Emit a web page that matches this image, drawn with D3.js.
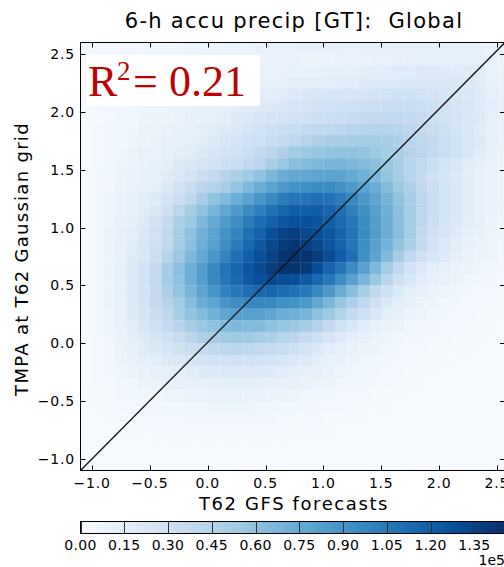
<!DOCTYPE html>
<html>
<head>
<meta charset="utf-8">
<script src="https://cdn.jsdelivr.net/npm/d3@7/dist/d3.min.js"></script>
<style>
  html, body { margin: 0; padding: 0; background: #fff; }
  text { font-family: "DejaVu Sans", sans-serif; fill: #000; }
</style>
</head>
<body>
<script>
// bin lower edges (0.1 wide), x left->right, y top->bottom
var xBinLo = [-1.1,-1.0,-0.9,-0.8,-0.7,-0.6,-0.5,-0.4,-0.3,-0.2,-0.1,0.0,0.1,0.2,0.3,0.4,0.5,0.6,0.7,0.8,0.9,1.0,1.1,1.2,1.3,1.4,1.5,1.6,1.7,1.8,1.9,2.0,2.1,2.2,2.3,2.4,2.5];
var yBinLo = [2.5,2.4,2.3,2.2,2.1,2.0,1.9,1.8,1.7,1.6,1.5,1.4,1.3,1.2,1.1,1.0,0.9,0.8,0.7,0.6,0.5,0.4,0.3,0.2,0.1,0.0,-0.1,-0.2,-0.3,-0.4,-0.5,-0.6,-0.7,-0.8,-0.9,-1.0,-1.1];
var binW = 0.1;
var xLim = [-1.1, 2.57], yLim = [-1.1, 2.6];

// counts per bin, in units of 1e4, one row per yBinLo
var counts = [
  [0.2,0.3,0.3,0.4,0.4,0.5,0.5,0.6,0.6,0.7,0.7,0.8,0.8,0.9,0.9,1.0,1.0,1.1,1.1,1.2,1.2,1.2,1.3,1.3,1.3,1.3,1.3,1.4,1.4,1.4,1.4,1.4,1.3,1.3,1.2,1.0,0.8],
  [0.2,0.3,0.3,0.4,0.5,0.5,0.6,0.6,0.7,0.7,0.8,0.8,0.9,0.9,0.9,1.0,1.0,1.0,1.0,0.9,0.9,0.9,1.0,1.0,1.0,1.1,1.1,1.2,1.2,1.3,1.3,1.4,1.4,1.4,1.4,1.1,0.8],
  [0.2,0.3,0.4,0.4,0.5,0.6,0.6,0.7,0.7,0.8,0.8,0.9,0.9,1.0,1.0,1.1,1.1,1.1,1.2,1.3,1.3,1.4,1.4,1.5,1.5,1.6,1.6,1.7,1.7,1.8,1.8,1.8,1.7,1.7,1.6,1.1,0.8],
  [0.2,0.3,0.4,0.5,0.5,0.6,0.7,0.7,0.8,0.9,0.9,1.0,1.1,1.1,1.2,1.3,1.3,1.4,1.5,1.5,1.6,1.6,1.7,1.7,1.8,1.9,1.9,2.0,2.1,2.1,2.1,2.1,2.1,2.0,1.7,1.3,1.0],
  [0.2,0.3,0.4,0.5,0.6,0.7,0.7,0.8,0.9,1.0,1.1,1.1,1.2,1.3,1.4,1.5,1.6,1.7,1.9,2.1,2.2,2.3,2.3,2.4,2.5,2.6,2.7,2.8,2.8,2.7,2.6,2.4,2.3,2.1,1.8,1.5,1.1],
  [0.2,0.3,0.4,0.5,0.6,0.7,0.8,0.9,1.0,1.1,1.2,1.3,1.4,1.5,1.7,1.9,2.0,2.2,2.4,2.5,2.7,2.8,2.9,3.0,3.1,3.2,3.3,3.3,3.3,3.2,3.0,2.8,2.5,2.2,1.9,1.6,1.2],
  [0.2,0.2,0.3,0.5,0.6,0.7,0.8,0.9,1.0,1.2,1.3,1.4,1.6,1.8,2.0,2.3,2.5,2.6,2.8,2.9,3.1,3.2,3.3,3.5,3.7,3.8,3.8,3.8,3.7,3.5,3.1,2.8,2.5,2.1,1.8,1.4,1.1],
  [0.2,0.3,0.4,0.5,0.6,0.8,0.9,1.0,1.2,1.3,1.5,1.7,1.9,2.1,2.4,2.7,3.0,3.2,3.4,3.7,3.9,4.0,4.1,4.3,4.4,4.5,4.5,4.3,4.1,3.7,3.3,2.9,2.5,2.1,1.7,1.3,1.0],
  [0.2,0.3,0.4,0.5,0.7,0.9,1.0,1.2,1.4,1.5,1.7,2.0,2.3,2.6,2.8,3.0,3.4,3.7,4.0,4.4,4.7,4.9,5.0,5.1,5.2,5.1,5.0,4.7,4.3,4.0,3.7,3.2,2.7,2.2,1.8,1.4,1.0],
  [0.2,0.3,0.4,0.6,0.8,1.0,1.1,1.3,1.5,1.7,2.0,2.3,2.6,2.8,3.2,3.7,4.2,4.7,5.2,5.5,5.7,5.8,5.9,5.9,5.8,5.5,5.2,4.9,4.5,4.1,3.7,3.2,2.7,2.2,1.7,1.3,0.9],
  [0.2,0.3,0.5,0.7,0.9,1.1,1.3,1.5,1.8,2.1,2.4,2.7,3.0,3.3,3.8,4.2,4.9,5.6,6.2,6.4,6.6,6.7,6.8,6.6,6.4,6.1,5.6,5.0,4.3,3.8,3.2,2.6,2.1,1.7,1.4,1.1,0.8],
  [0.2,0.4,0.6,0.8,1.0,1.2,1.4,1.7,2.0,2.6,3.2,3.7,4.3,4.8,5.3,5.9,6.7,7.3,7.6,7.7,7.9,8.0,7.9,7.5,7.1,6.6,5.8,5.0,4.3,3.7,2.9,2.4,2.0,1.6,1.3,1.0,0.7],
  [0.2,0.4,0.6,0.9,1.1,1.3,1.5,2.1,2.7,3.4,4.1,4.6,5.0,5.8,6.6,7.3,8.0,8.7,9.1,9.2,9.4,9.4,9.1,8.6,8.0,7.3,6.4,5.5,4.7,3.9,3.1,2.6,2.1,1.7,1.3,1.0,0.7],
  [0.2,0.4,0.7,1.0,1.3,1.6,1.9,2.6,3.3,4.0,5.0,5.9,6.5,7.3,8.0,8.8,9.6,10.3,10.7,10.8,11.0,10.8,10.3,9.6,8.7,7.9,6.9,5.9,5.0,4.1,3.3,2.6,2.1,1.7,1.3,1.0,0.7],
  [0.2,0.4,0.7,1.0,1.3,1.6,2.2,3.0,4.1,5.1,5.9,6.8,7.7,8.6,9.4,10.1,10.9,11.6,12.0,11.9,12.0,11.6,11.0,10.1,9.2,8.2,7.2,6.1,5.1,4.1,3.3,2.6,2.1,1.7,1.3,1.0,0.7],
  [0.2,0.4,0.7,1.1,1.5,2.0,2.8,3.7,4.8,5.5,6.6,7.6,8.5,9.3,10.3,11.2,11.8,12.4,12.8,12.8,12.5,12.0,11.4,10.5,9.4,8.3,7.3,6.2,5.1,4.1,3.1,2.5,2.0,1.6,1.2,0.9,0.6],
  [0.2,0.4,0.8,1.2,1.6,2.1,2.9,3.9,5.0,5.9,7.0,8.0,9.0,9.9,11.0,11.8,12.8,13.5,13.8,13.2,12.9,12.4,11.7,10.8,9.5,8.4,7.3,6.2,5.0,3.9,2.9,2.3,1.8,1.4,1.0,0.8,0.6],
  [0.2,0.4,0.8,1.2,1.7,2.2,3.0,4.0,5.1,6.1,7.2,8.2,9.3,10.3,11.4,12.3,13.2,13.9,14.2,13.7,13.2,12.4,11.7,10.6,9.3,8.1,7.0,5.9,4.8,3.7,2.6,2.0,1.5,1.2,0.9,0.7,0.5],
  [0.2,0.4,0.8,1.3,1.8,2.2,3.2,4.3,5.5,6.6,7.6,8.8,9.9,11.0,12.0,12.8,13.6,14.3,14.55,14.4,13.9,13.0,12.1,11.0,9.2,7.9,6.5,5.0,3.9,2.9,2.3,1.8,1.4,1.1,0.9,0.7,0.5],
  [0.2,0.4,0.8,1.3,2.0,2.6,3.7,5.0,6.1,7.2,8.3,9.6,10.8,11.6,12.4,13.1,13.9,14.4,14.4,14.0,12.9,11.7,10.7,9.4,8.1,6.6,5.2,3.9,2.7,2.0,1.5,1.2,1.0,0.8,0.6,0.5,0.4],
  [0.2,0.4,0.8,1.3,2.0,2.7,3.8,5.1,6.0,7.2,8.3,9.6,10.6,11.4,12.2,12.8,13.2,13.0,12.8,12.3,11.4,10.5,9.3,8.1,6.8,5.6,4.2,2.9,2.1,1.6,1.2,1.0,0.8,0.6,0.5,0.4,0.3],
  [0.2,0.4,0.8,1.3,2.0,2.7,3.7,4.8,5.8,6.8,7.9,8.9,9.9,10.5,11.1,11.4,11.6,11.2,10.9,10.5,9.6,8.6,7.3,6.2,5.0,3.9,2.9,2.1,1.5,1.2,0.9,0.7,0.6,0.5,0.3,0.3,0.2],
  [0.2,0.4,0.8,1.3,1.9,2.6,3.7,4.4,5.2,6.3,7.3,7.9,8.8,9.3,9.6,9.7,9.6,9.2,9.0,8.7,7.7,6.7,5.6,4.7,3.9,2.9,2.1,1.5,1.2,0.9,0.7,0.5,0.4,0.3,0.3,0.2,0.2],
  [0.2,0.4,0.7,1.2,1.8,2.5,3.3,4.1,5.0,5.9,6.4,7.1,7.7,8.1,8.2,8.1,7.7,7.3,7.1,6.8,6.0,5.4,4.5,3.7,2.9,2.1,1.5,1.2,0.9,0.7,0.5,0.4,0.3,0.3,0.2,0.2,0.2],
  [0.2,0.4,0.7,1.1,1.7,2.3,3.0,3.7,4.3,5.1,5.6,6.0,6.4,6.6,6.5,6.4,6.0,5.7,5.5,5.1,4.5,3.8,2.9,2.2,1.7,1.3,1.0,0.8,0.6,0.5,0.4,0.3,0.3,0.2,0.2,0.2,0.1],
  [0.2,0.3,0.6,1.0,1.5,2.0,2.5,2.9,3.5,4.2,4.8,5.1,5.3,5.4,5.3,5.0,4.7,4.3,4.1,3.6,3.0,2.4,1.8,1.4,1.2,0.9,0.7,0.6,0.5,0.4,0.3,0.3,0.2,0.2,0.2,0.1,0.1],
  [0.2,0.3,0.6,0.9,1.3,1.7,2.1,2.4,2.9,3.3,3.6,3.9,4.1,4.2,4.0,3.8,3.6,3.3,2.9,2.5,2.1,1.6,1.3,1.0,0.9,0.7,0.6,0.4,0.3,0.3,0.2,0.2,0.2,0.2,0.1,0.1,0.1],
  [0.2,0.3,0.5,0.8,1.1,1.4,1.6,1.8,2.1,2.3,2.5,2.7,2.8,2.9,2.8,2.6,2.5,2.3,2.1,1.8,1.5,1.3,1.1,0.8,0.6,0.5,0.4,0.3,0.3,0.2,0.2,0.2,0.1,0.1,0.1,0.1,0.1],
  [0.2,0.3,0.4,0.6,0.8,1.0,1.2,1.3,1.5,1.7,1.8,1.9,2.0,2.0,2.0,1.9,1.8,1.7,1.5,1.4,1.2,1.0,0.7,0.6,0.5,0.4,0.3,0.3,0.2,0.2,0.2,0.1,0.1,0.1,0.1,0.1,0.1],
  [0.1,0.2,0.3,0.5,0.6,0.8,0.9,1.0,1.1,1.2,1.3,1.4,1.5,1.5,1.5,1.4,1.3,1.2,1.1,1.0,0.8,0.7,0.6,0.5,0.4,0.3,0.3,0.2,0.2,0.2,0.1,0.1,0.1,0.1,0.1,0.1,0.1],
  [0.1,0.2,0.3,0.4,0.5,0.5,0.6,0.7,0.7,0.8,0.9,1.0,1.1,1.1,1.0,1.0,0.9,0.8,0.7,0.6,0.5,0.4,0.3,0.3,0.3,0.2,0.2,0.2,0.1,0.1,0.1,0.1,0.1,0.1,0.1,0.1,0.1],
  [0.1,0.2,0.2,0.3,0.3,0.4,0.4,0.5,0.5,0.6,0.6,0.7,0.7,0.7,0.7,0.6,0.6,0.5,0.5,0.4,0.4,0.3,0.3,0.2,0.2,0.2,0.2,0.1,0.1,0.1,0.1,0.1,0.1,0.1,0.1,0.1,0.1],
  [0.1,0.1,0.2,0.2,0.2,0.3,0.3,0.3,0.3,0.4,0.4,0.4,0.4,0.4,0.4,0.4,0.4,0.3,0.3,0.3,0.3,0.2,0.2,0.2,0.2,0.1,0.1,0.1,0.1,0.1,0.1,0.1,0.1,0.1,0.1,0.1,0.1],
  [0.1,0.1,0.1,0.2,0.2,0.2,0.2,0.2,0.2,0.3,0.3,0.3,0.3,0.3,0.3,0.3,0.2,0.2,0.2,0.2,0.2,0.2,0.1,0.1,0.1,0.1,0.1,0.1,0.1,0.1,0.1,0.1,0.1,0.1,0.1,0.1,0.1],
  [0.1,0.1,0.1,0.1,0.1,0.1,0.2,0.2,0.2,0.2,0.2,0.2,0.2,0.2,0.2,0.2,0.2,0.2,0.1,0.1,0.1,0.1,0.1,0.1,0.1,0.1,0.1,0.1,0.1,0.1,0.1,0.1,0.1,0.1,0.1,0.1,0.1],
  [0.1,0.1,0.1,0.1,0.1,0.1,0.1,0.1,0.1,0.1,0.1,0.1,0.1,0.1,0.1,0.1,0.1,0.1,0.1,0.1,0.1,0.1,0.1,0.1,0.1,0.1,0.1,0.1,0.1,0.1,0.1,0.1,0.1,0.1,0.1,0.1,0.1],
  [0.1,0.1,0.1,0.1,0.1,0.1,0.1,0.1,0.1,0.1,0.1,0.1,0.1,0.1,0.1,0.1,0.1,0.1,0.1,0.1,0.1,0.1,0.1,0.1,0.1,0.1,0.1,0.1,0.1,0.1,0.1,0.1,0.1,0.1,0.1,0.1,0.1]
];
var unit = 1e4;
var vmax = 1.455e5;

var axisTicks = [-1.0,-0.5,0.0,0.5,1.0,1.5,2.0,2.5];
var cbTicks = [0,15000,30000,45000,60000,75000,90000,105000,120000,135000];
var blues = ['#f7fbff','#deebf7','#c6dbef','#9ecae1','#6baed6','#4292c6','#2171b5','#08519c','#08306b'];

function draw() {
  var W = 504, H = 567;
  var pL = 80.5, pT = 42.5, pB = 470.5;
  var pxPerUnit = (pB - pT) / (yLim[1] - yLim[0]);
  var pR = pL + (xLim[1] - xLim[0]) * pxPerUnit;

  var svg = d3.select('body').append('svg')
    .attr('width', W).attr('height', H);

  var x = d3.scaleLinear().domain(xLim).range([pL, pR]);
  var y = d3.scaleLinear().domain(yLim).range([pB, pT]);

  var color = d3.scaleLinear()
    .domain(blues.map((c, i) => i / (blues.length - 1) * vmax))
    .range(blues)
    .interpolate(d3.interpolateRgb)
    .clamp(true);

  svg.append('clipPath').attr('id', 'plotclip')
    .append('rect').attr('x', pL).attr('y', pT)
    .attr('width', pR - pL).attr('height', pB - pT);

  var plot = svg.append('g').attr('clip-path', 'url(#plotclip)');

  // heatmap cells
  var cells = [];
  counts.forEach((row, r) => row.forEach((v, c) => cells.push({ x0: xBinLo[c], y0: yBinLo[r], v: v * unit })));

  plot.selectAll('rect.cell')
    .data(cells)
    .enter().append('rect')
      .attr('class', 'cell')
      .attr('x', d => x(d.x0))
      .attr('y', d => y(d.y0 + binW))
      .attr('width', d => x(d.x0 + binW) - x(d.x0) + 0.3)
      .attr('height', d => y(d.y0) - y(d.y0 + binW) + 0.3)
      .attr('fill', d => color(d.v));

  // corner to corner line
  plot.append('line')
    .attr('x1', x(xLim[0])).attr('y1', y(yLim[0]))
    .attr('x2', x(xLim[1])).attr('y2', y(yLim[1]))
    .attr('stroke', '#111').attr('stroke-width', 1.3);

  // R^2 box
  svg.append('rect').attr('x', 87).attr('y', 55).attr('width', 173).attr('height', 51).attr('fill', '#fff');
  var serif = '"Liberation Serif", "Times New Roman", serif';
  [['R', 88, 96, 44], ['2', 117, 80, 27], ['=', 133, 96, 44], ['0.21', 169, 96, 44]].forEach(p => {
    svg.append('text').attr('x', p[1]).attr('y', p[2])
      .style('font-family', serif).style('font-size', p[3] + 'px').style('fill', '#c00000')
      .text(p[0]);
  });

  // axes (ticks inside, on all four sides)
  var fmt = d3.format('.1f');
  var tickLen = 5;
  var axes = svg.append('g').attr('stroke', '#000').attr('stroke-width', 1);
  axisTicks.forEach(t => {
    var px = Math.round(x(t)) + 0.5, py = Math.round(y(t)) + 0.5;
    axes.append('line').attr('x1', px).attr('x2', px).attr('y1', pB).attr('y2', pB - tickLen);
    axes.append('line').attr('x1', px).attr('x2', px).attr('y1', pT).attr('y2', pT + tickLen);
    axes.append('line').attr('x1', pL).attr('x2', pL + tickLen).attr('y1', py).attr('y2', py);
    axes.append('line').attr('x1', pR).attr('x2', pR - tickLen).attr('y1', py).attr('y2', py);
  });
  svg.append('rect').attr('x', pL).attr('y', pT)
    .attr('width', pR - pL).attr('height', pB - pT)
    .attr('fill', 'none').attr('stroke', '#000').attr('stroke-width', 1);

  svg.append('g').selectAll('text').data(axisTicks).enter().append('text')
    .attr('x', d => x(d)).attr('y', 488)
    .attr('text-anchor', 'middle').style('font-size', '14px').style('letter-spacing', '0.8px')
    .text(d => fmt(d));

  svg.append('g').selectAll('text').data(axisTicks).enter().append('text')
    .attr('x', 75).attr('y', d => y(d)).attr('dy', '0.36em')
    .attr('text-anchor', 'end').style('font-size', '14px').style('letter-spacing', '0.8px')
    .text(d => fmt(d));

  // titles
  svg.append('text').attr('x', 294).attr('y', 28).attr('text-anchor', 'middle')
    .style('font-size', '21px').style('letter-spacing', '1.3px').style('white-space', 'pre')
    .text('6-h accu precip [GT]:  Global');
  svg.append('text').attr('x', 294).attr('y', 510).attr('text-anchor', 'middle')
    .style('font-size', '18px').style('letter-spacing', '1.6px').text('T62 GFS forecasts');
  svg.append('text').attr('transform', 'translate(28,259) rotate(-90)').attr('text-anchor', 'middle')
    .style('font-size', '18px').style('letter-spacing', '1.3px').text('TMPA at T62 Gaussian grid');

  // colorbar
  var cbTop = 521, cbH = 12;
  var cb = d3.scaleLinear().domain([0, vmax]).range([pL, pR]);
  var grad = svg.append('defs').append('linearGradient').attr('id', 'cbgrad');
  blues.forEach((c, i) => grad.append('stop')
    .attr('offset', (i / (blues.length - 1) * 100) + '%').attr('stop-color', c));
  svg.append('rect').attr('x', pL).attr('y', cbTop).attr('width', pR - pL).attr('height', cbH)
    .attr('fill', 'url(#cbgrad)');
  svg.append('g').selectAll('line').data(cbTicks).enter().append('line')
    .attr('x1', d => Math.round(cb(d)) + 0.5).attr('x2', d => Math.round(cb(d)) + 0.5)
    .attr('y1', cbTop).attr('y2', cbTop + cbH)
    .attr('stroke', '#333').attr('stroke-width', 1);
  svg.append('rect').attr('x', pL).attr('y', cbTop + 0.5).attr('width', pR - pL).attr('height', cbH)
    .attr('fill', 'none').attr('stroke', '#000').attr('stroke-width', 1);
  svg.append('g').selectAll('text').data(cbTicks).enter().append('text')
    .attr('x', d => cb(d)).attr('y', 550).attr('text-anchor', 'middle')
    .style('font-size', '14px').style('letter-spacing', '0.3px')
    .text(d => (d / 1e5).toFixed(2));
  svg.append('text').attr('x', 505).attr('y', 565).attr('text-anchor', 'end')
    .style('font-size', '14px').text('1e5');
}

draw();
</script>
</body>
</html>
